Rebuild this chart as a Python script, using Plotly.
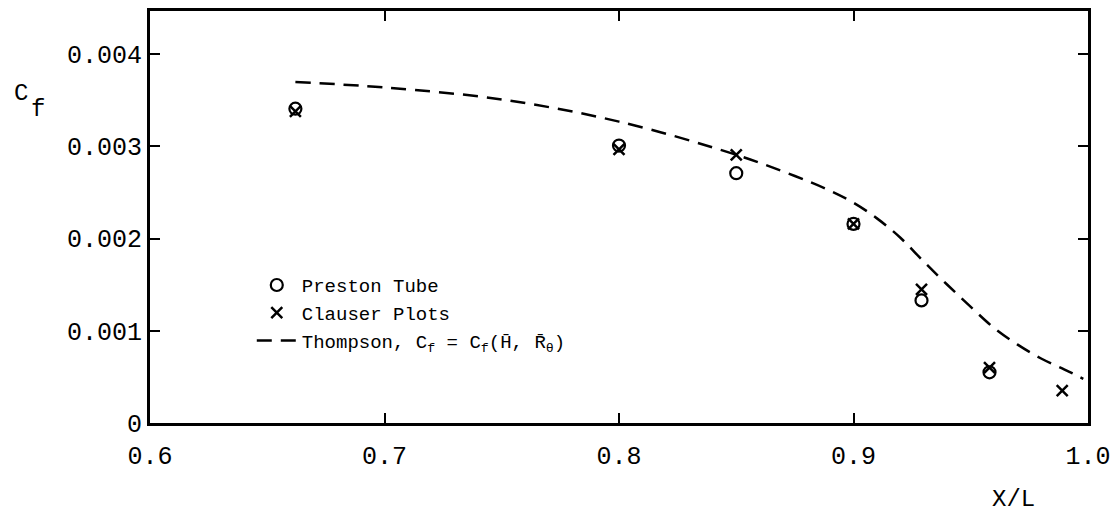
import plotly.graph_objects as go

# Data (Cf values)
preston_x = [0.662, 0.800, 0.850, 0.900, 0.929, 0.958]
preston_cf = [0.00341, 0.00301, 0.00271, 0.00216, 0.00133, 0.00055]

clauser_x = [0.662, 0.800, 0.850, 0.900, 0.929, 0.958, 0.989]
clauser_cf = [0.00338, 0.00297, 0.00291, 0.00216, 0.00145, 0.00060, 0.00035]

thompson_x = [0.662, 0.70, 0.75, 0.80, 0.85, 0.875, 0.89, 0.90, 0.91, 0.92, 0.93,
              0.94, 0.95, 0.96, 0.97, 0.98, 0.99, 0.998]
thompson_cf = [0.00370, 0.00364, 0.00351, 0.00327, 0.00291, 0.00268, 0.00252,
               0.00239, 0.00222, 0.00201, 0.00175, 0.00150, 0.00126, 0.00103,
               0.00085, 0.00070, 0.00058, 0.00048]

x_ticks = [0.6, 0.7, 0.8, 0.9, 1.0]
x_tick_labels = ["0.6", "0.7", "0.8", "0.9", "1.0"]
y_ticks = [0, 0.001, 0.002, 0.003, 0.004]
y_tick_labels = ["0", "0.001", "0.002", "0.003", "0.004"]

FONT = "Liberation Mono"
W, H = 1119, 522
ML, MR, MT, MB = 150, 29, 8, 99
PW, PH = W - ML - MR, H - MT - MB


def px(xp):
    return (xp - ML) / PW


def py(yp):
    return (H - MB - yp) / PH


fig = go.Figure()
fig.add_trace(go.Scatter(
    x=preston_x, y=preston_cf, mode="markers", name="Preston Tube",
    marker=dict(symbol="circle-open", size=12, color="black", line=dict(width=2.2, color="black")),
))
fig.add_trace(go.Scatter(
    x=clauser_x, y=clauser_cf, mode="markers", name="Clauser Plots",
    marker=dict(symbol="x-thin-open", size=11, color="black", line=dict(width=2.5, color="black")),
))
fig.add_trace(go.Scatter(
    x=thompson_x, y=thompson_cf, mode="lines", line_shape="spline",
    name="Thompson, C<sub>f</sub> = C<sub>f</sub>(H\u0304, R\u0304<sub>\u03b8</sub>)",
    line=dict(color="black", width=2.5, dash="15px,9px"),
))

fig.update_layout(
    width=W, height=H,
    margin=dict(l=ML, r=MR, t=MT, b=MB),
    paper_bgcolor="white", plot_bgcolor="white",
    font=dict(family=FONT, color="black", size=20),
    showlegend=True,
    legend=dict(
        x=px(252), y=py(265), xanchor="left", yanchor="top",
        font=dict(family=FONT, size=19, color="black"),
        bgcolor="rgba(0,0,0,0)", borderwidth=0,
        tracegroupgap=0, itemwidth=40,
    ),
    xaxis=dict(
        range=[0.6, 1.0], tickvals=x_ticks, ticktext=x_tick_labels,
        ticks="inside", ticklen=10, tickwidth=2, tickcolor="black",
        showline=True, linewidth=3, linecolor="black", mirror="ticks",
        showgrid=False, zeroline=False, ticklabelstandoff=8,
        tickfont=dict(family=FONT, size=25, color="black"),
    ),
    yaxis=dict(
        range=[0, 0.00447], tickvals=y_ticks, ticktext=y_tick_labels,
        ticks="inside", ticklen=10, tickwidth=2, tickcolor="black",
        showline=True, linewidth=3, linecolor="black", mirror="ticks",
        showgrid=False, zeroline=False,
        tickfont=dict(family=FONT, size=25, color="black"),
    ),
    annotations=[
        dict(text="C", x=px(21), y=py(91), xref="paper", yref="paper",
             xanchor="center", yanchor="middle", showarrow=False,
             font=dict(family=FONT, size=24, color="black")),
        dict(text="f", x=px(38), y=py(107), xref="paper", yref="paper",
             xanchor="center", yanchor="middle", showarrow=False,
             font=dict(family=FONT, size=24, color="black")),
        dict(text="X/L", x=px(1015), y=py(500), xref="paper", yref="paper",
             xanchor="center", yanchor="middle", showarrow=False,
             font=dict(family=FONT, size=24, color="black")),
    ],
)

fig.write_html("out.html")
